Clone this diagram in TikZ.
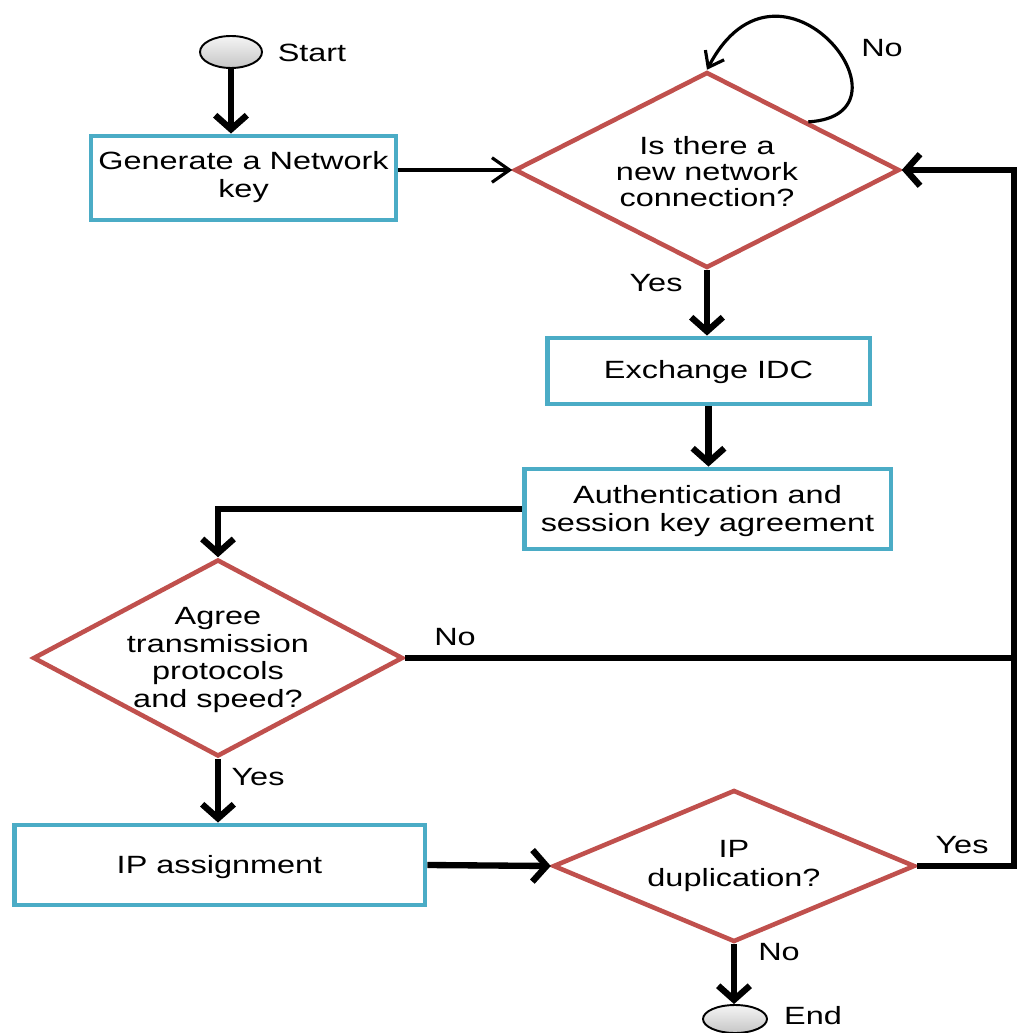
\documentclass[tikz,border=0pt]{standalone}
\usepackage{fontspec}
\setmainfont{Liberation Sans}[FakeStretch=1.3]
\usetikzlibrary{shapes.geometric,arrows.meta,calc}
\definecolor{boxblue}{HTML}{4BACC6}
\definecolor{dred}{HTML}{C0504D}
\begin{document}
\begin{tikzpicture}[x=0.02cm,y=-0.02cm,
  txt/.style={font=\fontsize{14.2pt}{15.5pt}\selectfont, align=center, inner sep=0pt},
  procbox/.style={draw=boxblue, line width=2.8pt, rectangle, inner sep=0pt},
  decis/.style={draw=dred, line width=2.6pt, diamond, inner sep=0pt},
  term/.style={ellipse, draw=black, line width=1.1pt, top color=gray!8, bottom color=gray!45, inner sep=0pt},
  thickarrow/.style={line width=3.6pt, -{Straight Barb[length=8pt,width=18pt]}},
  thinarrow/.style={line width=1.8pt, -{Straight Barb[length=10pt,width=14pt]}},
  plainline/.style={line width=3.6pt},
]
\useasboundingbox (0,0) rectangle (1017,1033);

% nodes
\node[term, minimum width=1.24cm, minimum height=0.64cm] (start) at (231,52) {};
\node[txt] (startl) at (312,53) {Start};
\node[procbox, minimum width=6.1cm, minimum height=1.68cm] (gen) at (243.5,178) {};
\node[txt] (gent) at (243.5,177) {Generate a Network\\key};
\node[decis, minimum width=7.7cm, minimum height=3.92cm] (d1) at (707,170) {};
\node[txt, font=\fontsize{14.2pt}{14.8pt}\selectfont] (d1t) at (707,172) {Is there a\\new network\\connection?};
\node[procbox, minimum width=6.46cm, minimum height=1.32cm] (exch) at (708.5,371) {};
\node[txt] (excht) at (708.5,372) {Exchange IDC};
\node[procbox, minimum width=7.34cm, minimum height=1.6cm] (auth) at (707.5,509) {};
\node[txt, font=\fontsize{14.2pt}{16.4pt}\selectfont] (autht) at (707.5,511) {Authentication and\\session key agreement};
\node[decis, minimum width=7.4cm, minimum height=3.94cm] (d2) at (218,658) {};
\node[txt, font=\fontsize{14.2pt}{15.7pt}\selectfont] (d2t) at (218,660) {Agree\\transmission\\protocols\\and speed?};
\node[procbox, minimum width=8.22cm, minimum height=1.6cm] (ip) at (219.5,865) {};
\node[txt] (ipt) at (219.5,867) {IP assignment};
\node[decis, minimum width=7.24cm, minimum height=3.04cm] (d3) at (734,866) {};
\node[txt, font=\fontsize{14.2pt}{16.5pt}\selectfont] (d3t) at (734,866) {IP\\duplication?};
\node[term, minimum width=1.28cm, minimum height=0.56cm] (end) at (735,1019) {};
\node[txt] (endl) at (813,1016) {End};

% edge labels
\node[txt] (lno1) at (882,48) {No};
\node[txt] (lyes1) at (656,283) {Yes};
\node[txt] (lno2) at (455,637) {No};
\node[txt] (lyes2) at (258,777) {Yes};
\node[txt] (lyes3) at (962,845) {Yes};
\node[txt] (lno3) at (779,952) {No};

% connectors
\coordinate (loopst) at ($(d1.north)!0.52!(d1.east)$);
\coordinate (rail) at (1014,170);
\draw[thickarrow] (start.south) -- (start.south |- gen.north);
\draw[thinarrow] (gen.east |- d1.west) -- (d1.west);
\draw[line width=1.8pt, -{Straight Barb[length=8pt,width=12pt]}] (loopst) .. controls (925,115) and (780,-70) .. (d1.north);
\draw[thickarrow] (d1.south) -- (d1.south |- exch.north);
\draw[thickarrow] (exch.south) -- (exch.south |- auth.north);
\draw[thickarrow] (auth.west) -| (d2.north);
\draw[thickarrow] (d2.east) -| (rail) -- (d1.east);
\draw[plainline] (d3.east) -| (d2.east -| rail);
\draw[thickarrow] (d2.south) -- (d2.south |- ip.north);
\draw[thickarrow] (ip.east) -- (d3.west);
\draw[thickarrow] (d3.south) -- (d3.south |- end.north);
\end{tikzpicture}
\end{document}
